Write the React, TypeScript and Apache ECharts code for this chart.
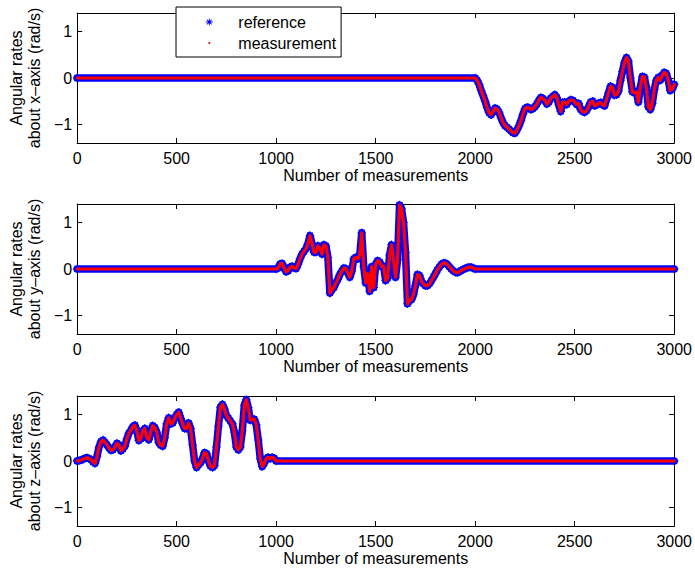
import React, { useEffect, useRef } from 'react';
import * as echarts from 'echarts';

// ---- data ----
const sampleMin = 0;
const sampleMax = 3000;
const sampleStep = 10;
const sampleTickInterval = 500;
const rateMin = -1.4;
const rateMax = 1.4;
const rateTicks = [-1, 0, 1];
const flatRate = 0;

// angular rate about x-axis, active from sample 2000, one value every 10 samples
const xRateStart = 2000;
const xRateValues = [
  0, -0.05, -0.14, -0.27, -0.38, -0.5, -0.64, -0.75, -0.79, -0.72,
  -0.65, -0.67, -0.74, -0.86, -0.96, -1.03, -1.06, -1.1, -1.14, -1.18,
  -1.19, -1.12, -1.03, -0.92, -0.78, -0.66, -0.63, -0.64, -0.68, -0.66,
  -0.62, -0.56, -0.48, -0.42, -0.44, -0.48, -0.56, -0.52, -0.43, -0.4,
  -0.36, -0.42, -0.58, -0.72, -0.52, -0.52, -0.57, -0.5, -0.47, -0.48,
  -0.52, -0.57, -0.55, -0.68, -0.72, -0.74, -0.7, -0.62, -0.52, -0.5,
  -0.6, -0.58, -0.54, -0.53, -0.58, -0.6, -0.46, -0.32, -0.18, -0.2,
  -0.37, -0.36, -0.28, -0.05, 0.14, 0.33, 0.44, 0.36, 0.0, -0.3,
  -0.32, -0.3, -0.52, -0.2, 0.03, 0.02, -0.2, -0.62, -0.68, -0.55,
  -0.25, -0.05, 0.01, -0.05, 0.06, 0.12, 0.1, -0.05, -0.27, -0.24,
  -0.14,
];

// angular rate about y-axis, active from sample 1000
const yRateStart = 1000;
const yRateValues = [
  0, 0.02, 0.11, 0.12, 0.02, -0.06, -0.04, 0.04, 0.06, 0.02,
  0.01, 0.1, 0.22, 0.32, 0.38, 0.44, 0.55, 0.72, 0.55, 0.36,
  0.36, 0.5, 0.45, 0.32, 0.52, 0.5, 0.25, -0.52, -0.45, -0.4,
  -0.3, -0.22, -0.12, -0.05, 0.02, 0.01, -0.08, -0.18, -0.05, 0.22,
  0.25, 0.22, 0.3, 0.78, 0.05, -0.3, -0.1, -0.48, 0.05, -0.4,
  0.1, 0.18, 0.15, 0.05, 0.06, -0.25, -0.2, 0.3, 0.52, 0.18,
  -0.18, 0.2, 1.38, 1.3, 1.0, 0.35, -0.75, -0.68, -0.66, -0.55,
  -0.35, -0.12, -0.14, -0.26, -0.32, -0.36, -0.36, -0.32, -0.25, -0.18,
  -0.1, -0.02, 0.04, 0.1, 0.13, 0.13, 0.1, 0.05, 0.0, -0.04,
  -0.07, -0.08, -0.06, -0.03, -0.01, 0.01, 0.03, 0.04, 0.04, 0.02,
  0,
];

// angular rate about z-axis, active from sample 0
const zRateStart = 0;
const zRateValues = [
  0, 0.01, 0.02, 0.04, 0.06, 0.07, 0.05, 0.03, -0.02, -0.05,
  0.1, 0.3, 0.42, 0.45, 0.4, 0.35, 0.28, 0.23, 0.24, 0.3,
  0.38, 0.35, 0.22, 0.26, 0.32, 0.48, 0.6, 0.66, 0.74, 0.77,
  0.65, 0.44, 0.48, 0.65, 0.7, 0.5, 0.46, 0.62, 0.76, 0.72,
  0.62, 0.4, 0.34, 0.32, 0.5, 0.8, 0.93, 0.8, 0.82, 0.92,
  1.0, 1.05, 0.92, 0.8, 0.7, 0.7, 0.82, 0.7, 0.35, 0.0,
  -0.14, -0.08, -0.04, 0.05, 0.18, 0.16, 0.0, -0.11, -0.14, -0.1,
  0.3, 0.75, 1.16, 1.22, 1.12, 0.98, 0.92, 0.86, 0.8, 0.62,
  0.3, 0.24, 0.3, 0.65, 1.2, 1.32, 1.15, 0.88, 0.9, 0.9,
  0.78, 0.45, 0.05, -0.12, -0.05, 0.05, 0.08, 0.05, 0.08, 0.06,
  0,
];

const rateStarts = [xRateStart, yRateStart, zRateStart];
const rateValues = [xRateValues, yRateValues, zRateValues];
const yAxisNames = [
  'Angular rates\nabout x\u2013axis (rad/s)',
  'Angular rates\nabout y\u2013axis (rad/s)',
  'Angular rates\nabout z\u2013axis (rad/s)',
];
const xAxisName = 'Number of measurements';
const seriesNames = ['reference', 'measurement'];

// ---- styling ----
const FONT = '"Liberation Sans", Arial, Helvetica, sans-serif';
const FS = 16;
const gridTops = [13, 204, 396];
const gridLeft = 76;
const gridWidth = 600;
const gridHeight = 130;

const ASTERISK =
  'path://M4.4,0H5.6V10H4.4Z M0,4.4H10V5.6H0Z M1.2,2L2,1.2L8.8,8L8,8.8Z M8,1.2L8.8,2L2,8.8L1.2,8Z';
const DOT =
  'path://M0,0h0.01v0.01h-0.01Z M7,7h-0.01v-0.01h0.01Z M2.4,3.5A1.1,1.1 0 1 1 4.6,3.5A1.1,1.1 0 1 1 2.4,3.5Z';

function buildPoints(start: number, values: number[]): number[][] {
  const pts: number[][] = [];
  if (start > sampleMin) pts.push([sampleMin, flatRate]);
  values.forEach((v, i) => pts.push([start + i * sampleStep, v]));
  const end = start + (values.length - 1) * sampleStep;
  if (end < sampleMax) pts.push([sampleMax, flatRate]);
  return pts;
}

const fmtRate = (v: number) => (v < 0 ? '\u2212' + String(-v) : String(v));

function buildOption() {
  const grid: any[] = [];
  const xAxis: any[] = [];
  const yAxis: any[] = [];
  const series: any[] = [];
  const axisLine = { show: true, onZero: false, lineStyle: { color: '#000', width: 1 } };
  const tick = { show: true, inside: true, length: 5, lineStyle: { color: '#000' } };

  gridTops.forEach((top, g) => {
    grid.push({ left: gridLeft, top, width: gridWidth, height: gridHeight, containLabel: false });
    xAxis.push({
      type: 'value', gridIndex: g, position: 'bottom', min: sampleMin, max: sampleMax,
      interval: sampleTickInterval, axisLine, axisTick: tick, splitLine: { show: false },
      axisLabel: { color: '#000', fontSize: FS, fontFamily: FONT, margin: 7, formatter: (v: number) => String(v) },
      name: xAxisName, nameLocation: 'middle', nameGap: 24.3,
      nameTextStyle: { color: '#000', fontSize: FS, fontFamily: FONT },
    });
    xAxis.push({
      type: 'value', gridIndex: g, position: 'top', min: sampleMin, max: sampleMax,
      interval: sampleTickInterval, axisLine, axisTick: tick, splitLine: { show: false },
      axisLabel: { show: false },
    });
    yAxis.push({
      type: 'value', gridIndex: g, position: 'left', min: rateMin, max: rateMax,
      axisLine, axisTick: { ...tick, customValues: rateTicks }, splitLine: { show: false },
      axisLabel: { color: '#000', fontSize: FS, fontFamily: FONT, margin: 5, customValues: rateTicks, formatter: fmtRate },
      name: yAxisNames[g], nameLocation: 'middle', nameRotate: 90, nameGap: 29.5,
      nameTextStyle: { color: '#000', fontSize: FS, fontFamily: FONT, lineHeight: 17.5, align: 'center' },
    });
    yAxis.push({
      type: 'value', gridIndex: g, position: 'right', min: rateMin, max: rateMax,
      axisLine, axisTick: { ...tick, customValues: rateTicks }, splitLine: { show: false },
      axisLabel: { show: false, customValues: rateTicks },
    });
    const pts = buildPoints(rateStarts[g], rateValues[g]);
    series.push({
      name: seriesNames[0], type: 'line', xAxisIndex: 2 * g, yAxisIndex: 2 * g, data: pts,
      symbol: ASTERISK, symbolSize: 8.5, showSymbol: true, showAllSymbol: true,
      itemStyle: { color: '#0000ff', borderWidth: 0 },
      lineStyle: { color: '#0000ff', width: 7.5, cap: 'round', join: 'round' },
      z: 2, silent: true,
    });
    series.push({
      name: seriesNames[1], type: 'line', xAxisIndex: 2 * g, yAxisIndex: 2 * g, data: pts,
      showSymbol: false, symbol: 'none',
      itemStyle: { color: '#ff0000', borderWidth: 0 },
      lineStyle: { color: '#ff0000', width: 3.2, cap: 'round', join: 'round' },
      z: 3, silent: true,
    });
  });

  return {
    animation: false,
    backgroundColor: '#fff',
    grid, xAxis, yAxis, series,
    legend: {
      left: 176, top: 7, orient: 'vertical', padding: [7, 5, 6, 29.8],
      itemWidth: 48, itemHeight: 7, itemGap: 5,
      backgroundColor: '#fff', borderColor: '#000', borderWidth: 1, borderRadius: 0,
      selectedMode: false,
      itemStyle: { borderWidth: 0 },
      textStyle: { color: '#000', fontSize: FS, fontFamily: FONT, lineHeight: 16 },
      data: [
        { name: seriesNames[0], icon: ASTERISK },
        { name: seriesNames[1], icon: DOT },
      ],
    },
  };
}

export default function App() {
  const ref = useRef<HTMLDivElement>(null);
  useEffect(() => {
    if (!ref.current) return;
    const chart = echarts.init(ref.current, undefined, { renderer: 'svg' });
    chart.setOption(buildOption() as any);
    return () => chart.dispose();
  }, []);
  return (
    <div
      ref={ref}
      style={{ position: 'absolute', left: 0, top: 0, width: 695, height: 571, background: '#fff' }}
    />
  );
}
